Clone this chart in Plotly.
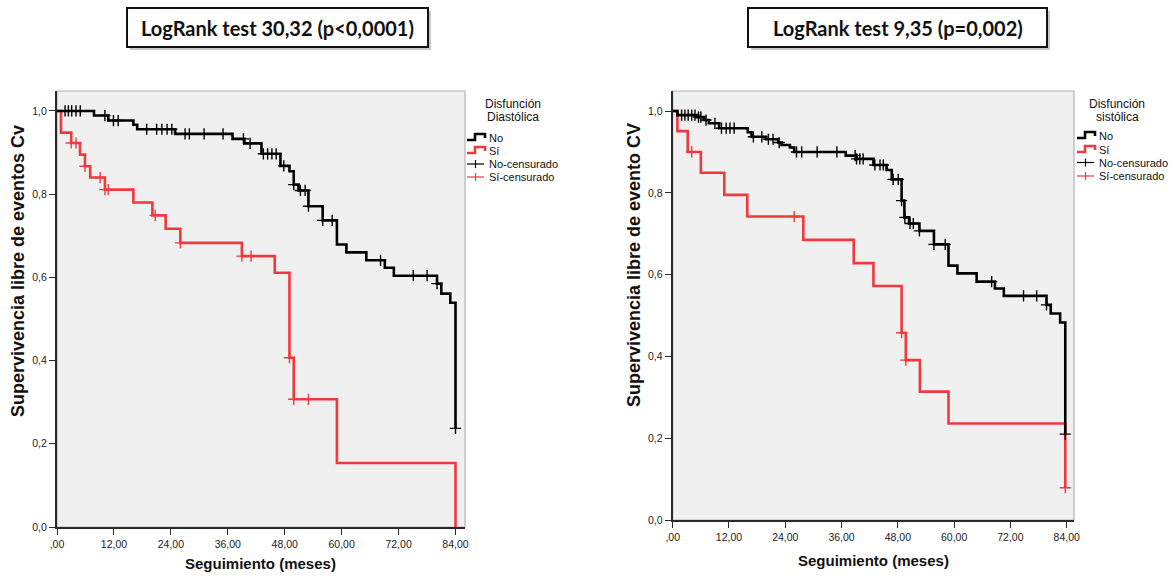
import plotly.graph_objects as go

W, H = 1175, 576

# ---------------- data ----------------
months_ticks = [0, 12, 24, 36, 48, 60, 72, 84]
months_labels = [",00", "12,00", "24,00", "36,00", "48,00", "60,00", "72,00", "84,00"]
surv_ticks = [0.0, 0.2, 0.4, 0.6, 0.8, 1.0]
surv_labels = ["0,0", "0,2", "0,4", "0,6", "0,8", "1,0"]

# Disfunción diastólica — No
dia_no_times = [7.8, 10.8, 16.1, 16.9, 24.9, 37.0, 39.5, 43.1, 47.1, 49.0, 49.9, 50.9,
                53.0, 56.0, 59.0, 61.0, 65.2, 69.1, 71.0, 80.1, 81.0, 82.9, 84.0]
dia_no_surv = [0.989, 0.977, 0.967, 0.956, 0.945, 0.933, 0.922, 0.897, 0.868, 0.855, 0.823, 0.809,
               0.771, 0.737, 0.679, 0.660, 0.641, 0.623, 0.604, 0.585, 0.561, 0.539, 0.237]
dia_no_cens = [1.7, 2.4, 3.1, 4.0, 4.9, 10.1, 11.9, 12.9, 18.9, 21.0, 22.1, 23.2, 24.2, 27.0,
               27.9, 31.0, 35.0, 39.3, 40.7, 43.5, 44.4, 45.3, 46.2, 47.8, 49.9, 51.3, 52.3,
               53.0, 56.0, 58.0, 68.2, 75.1, 78.0, 80.1, 84.0]

# Disfunción diastólica — Sí
dia_si_times = [0.84, 3.0, 4.85, 5.9, 7.0, 10.1, 16.1, 20.1, 22.9, 26.0, 38.97, 45.9, 49.0,
                49.9, 59.0, 84.0]
dia_si_surv = [0.948, 0.923, 0.895, 0.867, 0.840, 0.811, 0.780, 0.749, 0.717, 0.683, 0.651,
               0.611, 0.407, 0.307, 0.154, 0.0]
dia_si_cens = [3.0, 4.0, 5.9, 9.1, 10.1, 10.8, 20.7, 26.0, 38.97, 40.9, 49.0, 49.9, 53.0]

# Disfunción sistólica — No
sis_no_times = [1.0, 5.1, 6.7, 7.7, 9.9, 16.0, 16.8, 19.9, 22.5, 23.2, 25.0, 25.9, 36.9, 39.2,
                42.8, 45.6, 46.7, 48.8, 49.4, 50.4, 52.6, 55.7, 58.8, 60.7, 64.8, 68.7, 70.6,
                79.7, 80.6, 82.6, 83.7]
sis_no_surv = [0.990, 0.985, 0.978, 0.970, 0.958, 0.948, 0.937, 0.931, 0.923, 0.917, 0.911,
               0.900, 0.891, 0.883, 0.868, 0.856, 0.833, 0.781, 0.740, 0.725, 0.707, 0.674,
               0.622, 0.603, 0.583, 0.566, 0.548, 0.526, 0.505, 0.483, 0.210]
sis_no_cens = [1.9, 2.6, 3.3, 4.05, 4.75, 5.5, 6.0, 7.1, 9.0, 10.4, 11.4, 12.2, 13.1, 17.2, 19.0,
               20.4, 21.4, 22.7, 26.4, 27.5, 30.8, 35.0, 38.9, 39.2, 39.9, 40.6, 43.1, 44.2, 44.9,
               47.0, 48.1, 48.8, 49.5, 50.6, 51.3, 52.6, 55.7, 58.1, 68.0, 74.8, 77.6, 79.7, 83.7]

# Disfunción sistólica — Sí
sis_si_times = [1.0, 3.2, 6.0, 11.0, 15.9, 27.85, 38.6, 42.8, 48.8, 49.7, 52.7, 58.8, 83.7]
sis_si_surv = [0.951, 0.900, 0.849, 0.795, 0.742, 0.685, 0.628, 0.572, 0.458, 0.391, 0.314,
               0.236, 0.079]
sis_si_cens = [4.05, 25.9, 48.8, 49.7, 83.7]

BLACK = "#000000"
RED = "#f2383f"
BG = "#f0f0f0"
FONT = "Liberation Sans, Arial, sans-serif"


def px(x):
    return x / W


def py(y):
    return 1 - y / H


def surv_at(t, times, surv):
    s = 1.0
    for d, v in zip(times, surv):
        if d <= t + 1e-9:
            s = v
    return s


fig = go.Figure()


def add_group(times, surv, color, xa, ya):
    fig.add_trace(go.Scatter(
        x=[0.0] + times, y=[1.0] + surv, mode="lines", line_shape="hv",
        line=dict(color=color, width=2.6), xaxis=xa, yaxis=ya, showlegend=False,
        hoverinfo="skip"))


def add_cens(times, surv, cens, color, xa, ya):
    fig.add_trace(go.Scatter(
        x=cens, y=[surv_at(t, times, surv) for t in cens], mode="markers",
        marker=dict(symbol="cross-thin", size=8, line=dict(color=color, width=1.4)),
        xaxis=xa, yaxis=ya, showlegend=False, hoverinfo="skip"))


add_group(dia_si_times, dia_si_surv, RED, "x", "y")
add_group(dia_no_times, dia_no_surv, BLACK, "x", "y")
add_cens(dia_si_times, dia_si_surv, dia_si_cens, RED, "x", "y")
add_cens(dia_no_times, dia_no_surv, dia_no_cens, BLACK, "x", "y")

add_group(sis_si_times, sis_si_surv, RED, "x2", "y2")
add_group(sis_no_times, sis_no_surv, BLACK, "x2", "y2")
add_cens(sis_si_times, sis_si_surv, sis_si_cens, RED, "x2", "y2")
add_cens(sis_no_times, sis_no_surv, sis_no_cens, BLACK, "x2", "y2")

# plot areas in pixels: (left, right, top, bottom)
panels = [
    dict(l=57, r=465, t=91, b=527, xmax=86.0, ymax=1.048),
    dict(l=672.7, r=1074, t=91, b=520, xmax=85.56, ymax=1.049),
]

axis_common = dict(
    showgrid=False, zeroline=False, showline=True, linecolor="#2a2a2a", linewidth=2,
    ticks="outside", ticklen=6, tickwidth=1, tickcolor="#2a2a2a",
    tickfont=dict(family=FONT, size=10.5, color="#222222"),
)

layout_axes = {}
for i, p in enumerate(panels):
    sx = "" if i == 0 else "2"
    layout_axes["xaxis" + sx] = dict(
        axis_common, domain=[px(p["l"]), px(p["r"])], range=[0, p["xmax"]],
        tickvals=months_ticks, ticktext=months_labels, anchor="y" + sx)
    layout_axes["yaxis" + sx] = dict(
        axis_common, domain=[py(p["b"]), py(p["t"])], range=[0, p["ymax"]],
        tickvals=surv_ticks, ticktext=surv_labels, anchor="x" + sx)

shapes = []
annotations = []

# light frame around each plot area
for p in panels:
    shapes.append(dict(type="rect", xref="paper", yref="paper",
                       x0=px(p["l"]), x1=px(p["r"]), y0=py(p["b"]), y1=py(p["t"]),
                       line=dict(color="#b4b4b4", width=1.2), layer="below"))

# test result boxes
titles = [
    ("LogRank test 30,32 (p<0,0001)", 127, 428),
    ("LogRank test 9,35 (p=0,002)", 748, 1047),
]
for text, x0, x1 in titles:
    shapes.append(dict(type="rect", xref="paper", yref="paper",
                       x0=px(x0 + 3), x1=px(x1 + 3), y0=py(50), y1=py(11),
                       line=dict(width=0), fillcolor="#c8c8c8", layer="below"))
    shapes.append(dict(type="rect", xref="paper", yref="paper",
                       x0=px(x0), x1=px(x1), y0=py(47), y1=py(8),
                       line=dict(color="#111111", width=2), fillcolor="white", layer="below"))
    annotations.append(dict(text=f"<b>{text}</b>", xref="paper", yref="paper",
                            x=px((x0 + x1) / 2), y=py(28), xanchor="center", yanchor="middle",
                            showarrow=False, font=dict(family="Lato, sans-serif", size=20,
                                                       color="#111111")))

# axis titles
axis_titles = [
    ("Supervivencia libre de eventos Cv", 18, 271, "Seguimiento (meses)", 260, 563),
    ("Supervivencia libre de evento CV", 634, 265, "Seguimiento (meses)", 873, 560),
]
for ytxt, yx, yy, xtxt, xx, xy in axis_titles:
    annotations.append(dict(text=f"<b>{ytxt}</b>", xref="paper", yref="paper",
                            x=px(yx), y=py(yy), xanchor="center", yanchor="middle",
                            textangle=-90, showarrow=False,
                            font=dict(family=FONT, size=18, color="#111111")))
    annotations.append(dict(text=f"<b>{xtxt}</b>", xref="paper", yref="paper",
                            x=px(xx), y=py(xy), xanchor="center", yanchor="middle",
                            showarrow=False, font=dict(family=FONT, size=15, color="#111111")))

# legends
legends = [
    dict(title=["Disfunción", "Diastólica"], cx=513, x0=467, rows=[138, 151, 164, 177]),
    dict(title=["Disfunción", "sistólica"], cx=1117, x0=1077, rows=[136, 150, 162.5, 176]),
]
entry_labels = ["No", "Sí", "No-censurado", "Sí-censurado"]
entry_colors = [BLACK, RED, BLACK, RED]
for lg in legends:
    annotations.append(dict(text=lg["title"][0], xref="paper", yref="paper",
                            x=px(lg["cx"]), y=py(104), xanchor="center", yanchor="middle",
                            showarrow=False, font=dict(family=FONT, size=12, color="#111111")))
    annotations.append(dict(text=lg["title"][1], xref="paper", yref="paper",
                            x=px(lg["cx"]), y=py(117), xanchor="center", yanchor="middle",
                            showarrow=False, font=dict(family=FONT, size=12, color="#111111")))
    x0 = lg["x0"]
    for k, (lab, col, yrow) in enumerate(zip(entry_labels, entry_colors, lg["rows"])):
        if k < 2:
            pts = [(x0, yrow + 2), (x0 + 8, yrow + 2), (x0 + 8, yrow - 4),
                   (x0 + 18, yrow - 4), (x0 + 18, yrow)]
            path = "M " + " L ".join(f"{px(a):.5f},{py(b):.5f}" for a, b in pts)
            shapes.append(dict(type="path", xref="paper", yref="paper", path=path,
                               line=dict(color=col, width=2.6)))
        else:
            shapes.append(dict(type="line", xref="paper", yref="paper",
                               x0=px(x0), x1=px(x0 + 17), y0=py(yrow), y1=py(yrow),
                               line=dict(color=col, width=1.2)))
            shapes.append(dict(type="line", xref="paper", yref="paper",
                               x0=px(x0 + 8.5), x1=px(x0 + 8.5), y0=py(yrow - 4),
                               y1=py(yrow + 4), line=dict(color=col, width=1.2)))
        annotations.append(dict(text=lab, xref="paper", yref="paper",
                                x=px(x0 + 20), y=py(yrow), xanchor="left", yanchor="middle",
                                showarrow=False,
                                font=dict(family=FONT, size=11, color="#111111")))

fig.update_layout(
    width=W, height=H, margin=dict(l=0, r=0, t=0, b=0, autoexpand=False),
    paper_bgcolor="white", plot_bgcolor=BG, showlegend=False,
    shapes=shapes, annotations=annotations, **layout_axes,
)

fig.write_html("out.html", config={"displayModeBar": False})
